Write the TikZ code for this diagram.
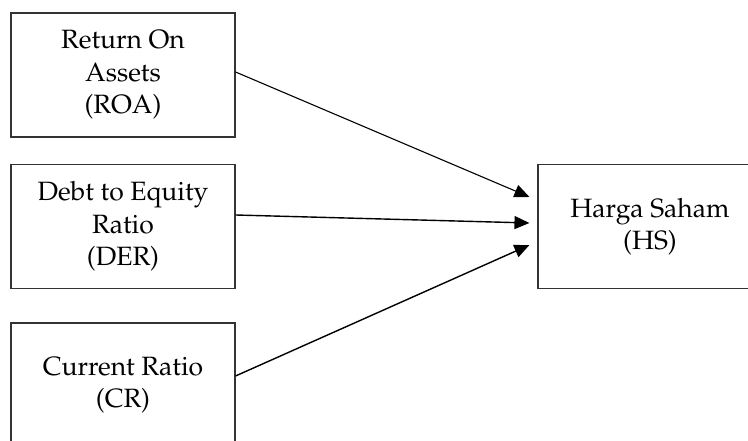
\documentclass[tikz,border=0pt]{standalone}
\usepackage[T1]{fontenc}
\usepackage{mathpazo}
\usetikzlibrary{arrows.meta}

\begin{document}
\begin{tikzpicture}[x = 1pt, y = 1pt, line width = 1.1pt,
                        var/.style = {rectangle, draw = black!80, minimum width = 224pt, minimum height = 124pt,
                                      inner sep = 0pt, align = center, font = \fontsize{26.5}{32.5}\selectfont},
                        link/.style = {-{Triangle[length = 15pt, width = 13pt]}, line width = 1.4pt}]
      \clip (0, 0) rectangle (748, 441);
      \node [var] (roa) at (123, 366){Return On\\Assets\\(ROA)};
      \node [var] (der) at (123, 214.5){Debt to Equity\\Ratio\\(DER)};
      \node [var] (cr) at (123, 56){Current Ratio\\(CR)};
      \node [var] (hs) at (650, 214.5){Harga Saham\\(HS)};
      \draw [link, line width = 1.1pt] ([yshift = 3pt]roa.east) -- ([xshift = -8pt, yshift = 29.5pt]hs.west);
      \draw [link] ([yshift = 11.5pt]der.east) -- ([xshift = -8pt, yshift = 3.5pt]hs.west);
      \draw [link] ([yshift = 9pt]cr.east) -- ([xshift = -8pt, yshift = -18.5pt]hs.west);
    \end{tikzpicture}
\end{document}
